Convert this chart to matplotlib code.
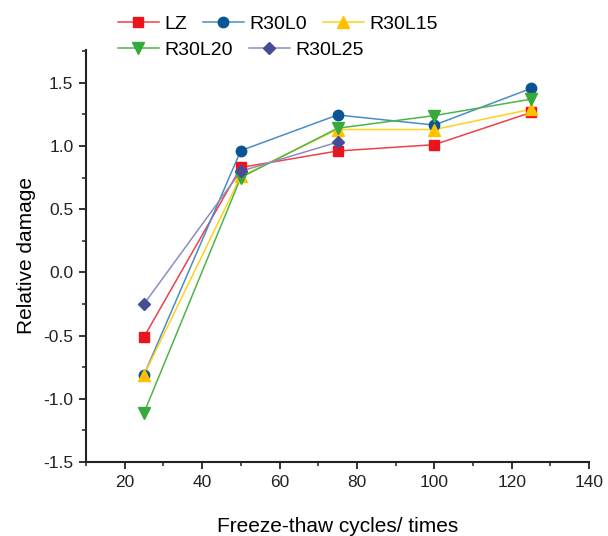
import matplotlib
matplotlib.use("Agg")
import matplotlib.pyplot as plt
from matplotlib.ticker import MultipleLocator
from matplotlib.lines import Line2D

plt.rcParams['font.family'] = ['Liberation Sans', 'DejaVu Sans']

cycles = [25, 50, 75, 100, 125]
lz = [-0.51, 0.83, 0.96, 1.01, 1.265]
r30l0 = [-0.81, 0.963, 1.245, 1.165, 1.455]
r30l15 = [-0.81, 0.76, 1.13, 1.13, 1.29]
r30l20 = [-1.11, 0.75, 1.14, 1.24, 1.37]
r30l25_cycles = [25, 50, 75]
r30l25 = [-0.25, 0.80, 1.03]

fig = plt.figure(figsize=(6.08, 5.36), dpi=100)
ax = fig.add_axes([0.1414, 0.138, 0.8276, 0.769])

# (label, x, y, line colour, marker colour, marker, marker size)
series = [
	("LZ", cycles, lz, "#F0404A", "#E8141E", "s", 7),
	("R30L0", cycles, r30l0, "#4A8CC6", "#0A5494", "o", 7.5),
	("R30L15", cycles, r30l15, "#FFD21A", "#FFC000", "^", 8),
	("R30L20", cycles, r30l20, "#4DB548", "#36A93A", "v", 8.5),
	("R30L25", r30l25_cycles, r30l25, "#8A8DC4", "#464C96", "D", 6.5),
]

handles = []
for label, xs, ys, lc, mc, mk, ms in series:
	ax.plot(xs, ys, color=lc, lw=1.1, zorder=2)
	ax.plot(xs, ys, ls="none", marker=mk, ms=ms, color=mc, mec=mc, zorder=3)
	handles.append(Line2D([], [], color=lc, lw=1.1, marker=mk, ms=ms,
		markerfacecolor=mc, markeredgecolor=mc, label=label))

ax.set_xlim(10, 140)
ax.set_ylim(-1.5, 1.76)
ax.xaxis.set_major_locator(MultipleLocator(20))
ax.xaxis.set_minor_locator(MultipleLocator(10))
ax.yaxis.set_minor_locator(MultipleLocator(0.25))
ax.set_yticks([-1.5, -1.0, -0.5, 0.0, 0.5, 1.0, 1.5])
ax.set_yticklabels(["-1.5", "-1.0", "-0.5", "0.0", "0.5", "1.0", "1.5"])

for s in ["top", "right"]:
	ax.spines[s].set_visible(False)
for s in ["left", "bottom"]:
	ax.spines[s].set_linewidth(1.5)
	ax.spines[s].set_color("#222222")

ax.tick_params(which="major", direction="out", length=5, width=1.3, labelsize=12.5, colors="#222222", pad=4)
ax.tick_params(which="minor", direction="out", length=3, width=1.1, colors="#222222")

ax.set_xlabel("Freeze-thaw cycles/ times", fontsize=15, labelpad=20)
ax.set_ylabel("Relative damage", fontsize=15, labelpad=5)

leg_kw = dict(frameon=False, fontsize=14, handlelength=2.1, handletextpad=0.3,
	columnspacing=0.8, borderaxespad=0, borderpad=0)
leg1 = fig.legend(handles=handles[:3], loc="center left", bbox_to_anchor=(0.194, 0.955),
	ncol=3, **leg_kw)
leg2 = fig.legend(handles=handles[3:], loc="center left", bbox_to_anchor=(0.194, 0.906),
	ncol=2, **leg_kw)

fig.savefig("out.png", dpi=100)
